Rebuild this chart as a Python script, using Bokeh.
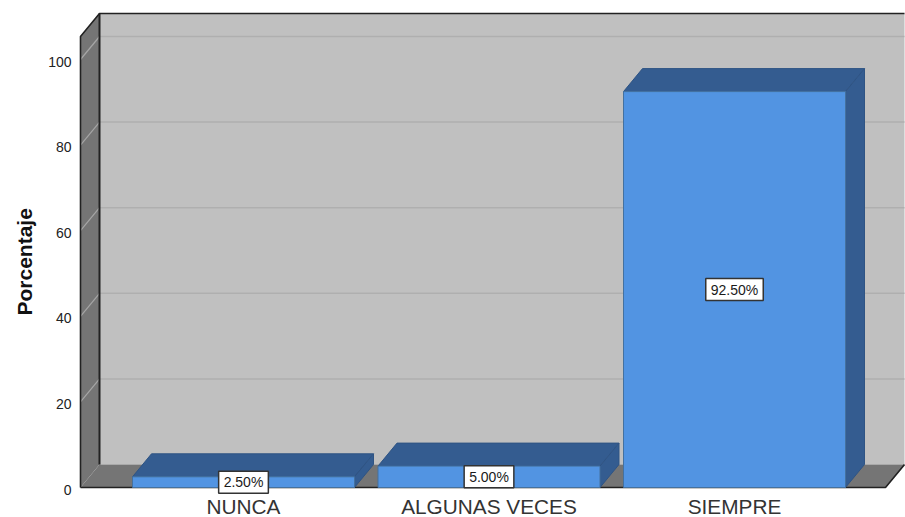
from bokeh.plotting import figure
from bokeh.models import Label, LinearAxis, Range1d, FixedTicker, Title
from bokeh.embed import file_html
from bokeh.resources import INLINE

categories = ["NUNCA", "ALGUNAS VECES", "SIEMPRE"]
percent = [2.5, 5.0, 92.5]
percent_labels = ["2.50%", "5.00%", "92.50%"]
y_ticks = [0, 20, 40, 60, 80, 100]

FONT = "Liberation Sans"
PX_X = 245.5            # pixels per category
PX_Y = 4.28             # pixels per percentage point
DX = 19 / PX_X          # depth of the 3D box in data units
DY = 23 / PX_Y
BW = 222 / PX_X         # bar width
X0 = -163 / PX_X        # left edge of the front plane
X1 = 642 / PX_X         # right edge of the front plane
TOP = 451 / PX_Y        # top of the front plane
Y_START, Y_END = -7 / PX_Y, 478 / PX_Y
LABEL_DROP = 2 / PX_Y   # tick labels sit a little below their gridlines

p = figure(width=905, height=517, frame_width=827, frame_height=485,
           output_backend="svg", toolbar_location=None, y_axis_location=None,
           x_range=Range1d(-165 / PX_X, 662 / PX_X),
           y_range=Range1d(Y_START, Y_END),
           min_border_left=78, min_border_right=0, min_border_top=9, min_border_bottom=23,
           outline_line_color=None, background_fill_color="white", border_fill_color="white")
p.grid.visible = False
p.extra_y_ranges = {"labels": Range1d(Y_START + LABEL_DROP, Y_END + LABEL_DROP)}

# walls and floor
p.patch([X0 + DX, X1 + DX, X1 + DX, X0 + DX], [DY, DY, TOP + DY, TOP + DY],
        fill_color="#C0C0C0", line_color=None)
p.patch([X0, X0 + DX, X0 + DX, X0], [0, DY, TOP + DY, TOP],
        fill_color="#757575", line_color=None)
p.patch([X0, X0 + DX, X1 + DX, X1], [0, DY, DY, 0],
        fill_color="#757575", line_color=None)

# gridlines, back wall and side wall
grid = [t for t in y_ticks if t > 0]
p.segment([X0 + DX] * len(grid), [t + DY for t in grid], [X1 + DX] * len(grid), [t + DY for t in grid],
          line_color="#AFAFAF", line_width=1.5)
p.segment([X0] * len(grid), grid, [X0 + DX] * len(grid), [t + DY for t in grid],
          line_color="#A6A6A6", line_width=1.2)

# frame lines
p.line([X0, X0, X0 + DX, X1 + DX], [0, TOP, TOP + DY, TOP + DY], line_color="#222222", line_width=1.6)
p.line([X0 + DX, X0 + DX], [TOP + DY, DY], line_color="#222222", line_width=2)
p.line([X0, X1, X1 + DX], [0, 0, DY], line_color="#222222", line_width=1.6)

# bars
for i, v in enumerate(percent):
    l, r = i - BW / 2, i + BW / 2
    p.patch([l, l + DX, r + DX, r], [v, v + DY, v + DY, v],
            fill_color="#345C90", line_color="#2F5484", line_width=1)
    p.patch([r, r + DX, r + DX, r], [0, DY, v + DY, v],
            fill_color="#345C90", line_color="#2F5484", line_width=1)
    p.patch([l, r, r, l], [0, 0, v, v],
            fill_color="#5294E2", line_color="#44719F", line_width=1)

for i, (v, t) in enumerate(zip(percent, percent_labels)):
    p.add_layout(Label(x=i, y=v / 2, text=t, text_align="center", text_baseline="middle",
                       text_font=FONT, text_font_size="14px", text_color="#1A1A1A",
                       background_fill_color="white", border_line_color="#333333", border_line_width=1.5,
                       padding=(5, 3), level="overlay"))

# axes
p.xaxis.ticker = FixedTicker(ticks=list(range(len(categories))))
p.xaxis.major_label_overrides = {i: c for i, c in enumerate(categories)}
p.xaxis.axis_line_color = None
p.xaxis.major_tick_line_color = None
p.xaxis.minor_tick_line_color = None
p.xaxis.major_label_text_font = FONT
p.xaxis.major_label_text_font_size = "20.8px"
p.xaxis.major_label_text_color = "#333333"
p.xaxis.major_label_standoff = -6

y_axis = LinearAxis(y_range_name="labels", ticker=FixedTicker(ticks=y_ticks),
                    axis_line_color=None, major_tick_line_color=None, minor_tick_line_color=None,
                    major_label_text_font=FONT, major_label_text_font_size="14px",
                    major_label_text_color="#222222", major_label_standoff=1)
p.add_layout(y_axis, "left")

# an invisible axis with a blank tick only reserves room between the tick labels and the title
spacer = LinearAxis(ticker=FixedTicker(ticks=[0]), major_label_overrides={0: ""},
                    axis_line_color=None, major_tick_line_color=None, minor_tick_line_color=None,
                    major_tick_in=0, major_tick_out=10, minor_tick_out=0, major_label_standoff=5)
p.add_layout(spacer, "left")

p.add_layout(Title(text="Porcentaje", align="left", offset=179, standoff=0,
                   text_font=FONT, text_font_style="bold", text_font_size="21px",
                   text_color="#111111"), "left")

open("out.html", "w").write(file_html(p, INLINE))
